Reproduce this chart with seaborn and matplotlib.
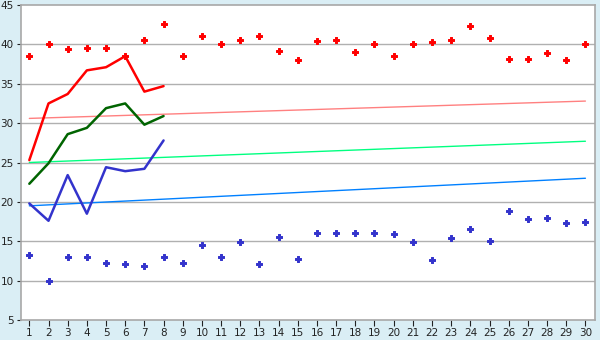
import matplotlib
matplotlib.use("Agg")
import matplotlib.pyplot as plt
import seaborn as sns
import pandas as pd

days = list(range(1, 31))
max_temp = [38.5, 40.0, 39.4, 39.6, 39.5, 38.5, 40.5, 42.6, 38.5, 41.0,
            40.0, 40.6, 41.0, 39.1, 38.0, 40.4, 40.5, 39.0, 40.1, 38.5,
            40.1, 40.3, 40.6, 42.3, 40.8, 38.1, 38.1, 38.9, 38.0, 40.0]
min_temp = [13.2, 10.0, 13.0, 13.0, 12.2, 12.1, 11.8, 13.0, 12.2, 14.5,
            13.0, 14.9, 12.1, 15.5, 12.8, 16.1, 16.0, 16.0, 16.1, 15.9,
            14.9, 12.6, 15.4, 16.6, 15.0, 18.9, 17.8, 18.0, 17.3, 17.4]

cur_days = [1, 2, 3, 4, 5, 6, 7, 8]
cur_max = [25.3, 32.5, 33.7, 36.7, 37.1, 38.5, 34.0, 34.7]
cur_mean = [22.3, 24.9, 28.6, 29.4, 31.9, 32.5, 29.8, 30.9]
cur_min = [19.8, 17.6, 23.4, 18.5, 24.4, 23.9, 24.2, 27.8]

norm_days = [1, 30]
norm_max = [30.6, 32.8]
norm_mean = [25.0, 27.7]
norm_min = [19.5, 23.0]

sns.set_theme(style="white")
plt.rcParams['font.family'] = ['DejaVu Sans']

bg = "#daeef5"
fig = plt.figure(figsize=(6, 3.4), dpi=100, facecolor=bg)
ax = fig.add_axes([0.0345, 0.0588, 0.9572, 0.9265])
ax.set_facecolor("white")

hist = pd.DataFrame({"day": days, "max": max_temp, "min": min_temp})
cur = pd.DataFrame({"day": cur_days, "max": cur_max, "mean": cur_mean, "min": cur_min})
norm = pd.DataFrame({"day": norm_days, "max": norm_max, "mean": norm_mean, "min": norm_min})

sns.lineplot(data=norm, x="day", y="max", ax=ax, color="#ff8080", linewidth=1.0)
sns.lineplot(data=norm, x="day", y="mean", ax=ax, color="#00ff80", linewidth=1.0)
sns.lineplot(data=norm, x="day", y="min", ax=ax, color="#0080ff", linewidth=1.0)

sns.lineplot(data=cur, x="day", y="max", ax=ax, color="#ff0000", linewidth=1.8)
sns.lineplot(data=cur, x="day", y="mean", ax=ax, color="#006400", linewidth=1.8)
sns.lineplot(data=cur, x="day", y="min", ax=ax, color="#3333cc", linewidth=1.8)

sns.scatterplot(data=hist, x="day", y="max", ax=ax, color="#ff0000", marker="P",
                s=16, linewidth=0.7, edgecolor="#ff0000", zorder=5)
sns.scatterplot(data=hist, x="day", y="min", ax=ax, color="#3333cc", marker="P",
                s=16, linewidth=0.7, edgecolor="#3333cc", zorder=5)

ax.set_xlim(0.55, 30.5)
ax.set_ylim(5, 45)
ax.set_xticks(days)
ax.set_yticks(range(5, 46, 5))
ax.set_xlabel("")
ax.set_ylabel("")
for y in range(10, 45, 5):
    ax.axhline(y, color="#b0b0b0", linewidth=1.0, zorder=0)
for s in ax.spines.values():
    s.set_color("#a8a8a8")
    s.set_linewidth(1.2)
ax.tick_params(axis="both", labelsize=7.5, colors="#222222", length=3, width=0.8,
               pad=2, bottom=True, left=True)
ax.tick_params(axis="x", length=4)
fig.savefig("out.png", dpi=100, facecolor=bg)
